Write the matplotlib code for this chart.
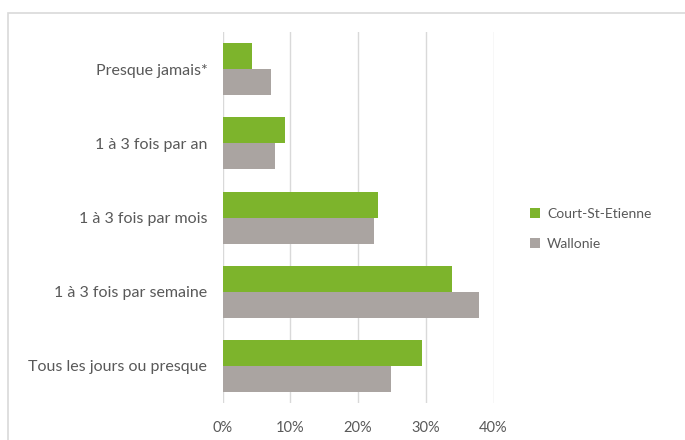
import matplotlib.pyplot as plt
import numpy as np
from matplotlib.patches import Rectangle

# Données (part en %)
categories = ["Presque jamais*", "1 à 3 fois par an", "1 à 3 fois par mois",
              "1 à 3 fois par semaine", "Tous les jours ou presque"]
court_st_etienne = [4.4, 9.2, 23.0, 33.9, 29.5]
wallonie = [7.1, 7.7, 22.4, 37.8, 24.8]
ticks = [0, 10, 20, 30, 40]

vert = "#7DB42C"
gris = "#AAA4A1"
texte = "#595959"

plt.rcParams['font.family'] = ['Lato', 'DejaVu Sans']

fig = plt.figure(figsize=(6.85, 4.40), dpi=100)
ax = fig.add_axes([0.325, 0.084, 0.3955, 0.843])

# cadre du graphique
fig.patches.append(Rectangle((8 / 685, -0.1), 1.2, 1 - 13 / 440 + 0.1,
                             transform=fig.transFigure, fill=False,
                             edgecolor="#D9D9D9", linewidth=1.2))

y = np.arange(len(categories))
h = 0.35
ax.barh(y - h / 2, court_st_etienne, height=h, color=vert, label="Court-St-Etienne", zorder=3)
ax.barh(y + h / 2, wallonie, height=h, color=gris, label="Wallonie", zorder=3)

ax.set_ylim(len(categories) - 0.5, -0.5)
ax.set_xlim(0, 40)
ax.set_yticks(y)
ax.set_yticklabels(categories, fontsize=11.5, color=texte)
ax.set_xticks(ticks)
ax.set_xticklabels([f"{t}%" for t in ticks], fontsize=10.5, color=texte)
ax.tick_params(axis='y', length=0, pad=11)
ax.tick_params(axis='x', length=0, pad=13)
ax.grid(axis='x', color="#D9D9D9", linewidth=1, zorder=0)
for s in ax.spines.values():
    s.set_visible(False)

leg = ax.legend(loc='center left', bbox_to_anchor=(1.09, 0.47), frameon=False,
                fontsize=10, handlelength=0.7, handleheight=0.7,
                handletextpad=0.5, labelspacing=1.3)
for t in leg.get_texts():
    t.set_color(texte)

plt.savefig("out.png", dpi=100)
